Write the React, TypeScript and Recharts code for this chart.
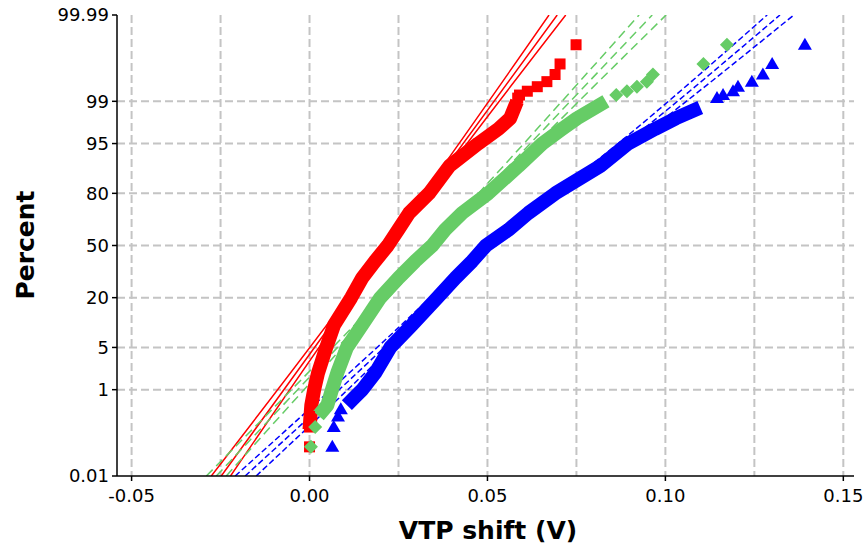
import React from 'react';
import { ComposedChart, Line, Scatter, XAxis, YAxis, CartesianGrid } from 'recharts';

// normal probability scale: cumulative percent -> standard normal quantile
const probit = (pct: number) => {
  const p = pct / 100;
  const a = [-39.69683028665376, 220.9460984245205, -275.9285104469687, 138.357751867269, -30.66479806614716, 2.506628277459239];
  const b = [-54.47609879822406, 161.5858368580409, -155.6989798598866, 66.80131188771972, -13.28068155288572];
  const c = [-0.007784894002430293, -0.3223964580411365, -2.400758277161838, -2.549732539343734, 4.374664141464968, 2.938163982698783];
  const d = [0.007784695709041462, 0.3224671290700398, 2.445134137142996, 3.754408661907416];
  const tail = (q: number) =>
    (((((c[0] * q + c[1]) * q + c[2]) * q + c[3]) * q + c[4]) * q + c[5]) /
    ((((d[0] * q + d[1]) * q + d[2]) * q + d[3]) * q + 1);
  if (p < 0.02425) return tail(Math.sqrt(-2 * Math.log(p)));
  if (p > 1 - 0.02425) return -tail(Math.sqrt(-2 * Math.log(1 - p)));
  const q = p - 0.5;
  const r = q * q;
  return ((((((a[0] * r + a[1]) * r + a[2]) * r + a[3]) * r + a[4]) * r + a[5]) * q) /
    (((((b[0] * r + b[1]) * r + b[2]) * r + b[3]) * r + b[4]) * r + 1);
};

const yTickLabels = ['0.01', '1', '5', '20', '50', '80', '95', '99', '99.99'];
const yGridPct = [1, 5, 20, 50, 80, 95, 99];
const xTicks = [-0.05, 0, 0.05, 0.1, 0.15];
const xGrid = [-0.05, -0.025, 0, 0.025, 0.05, 0.075, 0.1, 0.125, 0.15];

// dense part of each sample (percent, VTP shift)
const redPct = [0.15, 0.5, 1, 2, 5, 10, 20, 30, 40, 50, 60, 70, 80, 90, 95, 97, 98, 99];
const redX = [0.0, 0.0005, 0.0013, 0.0024, 0.0047, 0.0069, 0.0117, 0.0148, 0.0184, 0.022, 0.0249, 0.028, 0.0336, 0.0393, 0.0474, 0.0531, 0.0564, 0.0583];
const greenPct = [0.3, 0.5, 1, 2, 5, 10, 20, 30, 40, 50, 60, 70, 80, 90, 95, 97, 98, 99];
const greenX = [0.0025, 0.005, 0.0063, 0.0078, 0.0105, 0.0148, 0.0199, 0.025, 0.0297, 0.0345, 0.0381, 0.0429, 0.0502, 0.0587, 0.0654, 0.071, 0.0752, 0.0833];
const bluePct = [0.5, 0.7, 1, 2, 5, 10, 20, 30, 40, 50, 60, 70, 80, 90, 95, 97, 98, 98.7];
const blueX = [0.0105, 0.0125, 0.0148, 0.0185, 0.0227, 0.0288, 0.0359, 0.041, 0.0457, 0.0496, 0.0559, 0.0615, 0.0691, 0.0817, 0.0895, 0.0971, 0.103, 0.1098];

// isolated points in the tails
const redTailPct = [0.058, 0.17, 0.29, 99.13, 99.24, 99.36, 99.48, 99.59, 99.71, 99.83, 99.94];
const redTailX = [0.0, 0.0, 0.0, 0.0585, 0.059, 0.0612, 0.064, 0.0667, 0.069, 0.0704, 0.0749];
const greenTailPct = [0.058, 0.17, 99.24, 99.36, 99.48, 99.59, 99.71, 99.83, 99.94];
const greenTailX = [0.0004, 0.0016, 0.0862, 0.0892, 0.092, 0.0948, 0.0965, 0.1107, 0.1173];
const blueTailPct = [0.058, 0.17, 0.29, 0.41, 99.13, 99.24, 99.36, 99.48, 99.59, 99.71, 99.83, 99.94];
const blueTailX = [0.0064, 0.0068, 0.008, 0.0088, 0.1145, 0.1162, 0.119, 0.1204, 0.1243, 0.1274, 0.13, 0.1392];

// fitted lines with confidence bounds
const fitPct = [0.01, 50, 99.99];
const redFitLow = [-0.0276, 0.0215, 0.0673];
const redFit = [-0.0248, 0.0222, 0.0696];
const redFitHigh = [-0.0222, 0.0229, 0.072];
const greenFitLow = [-0.029, 0.0339, 0.0926];
const greenFit = [-0.0262, 0.0349, 0.0963];
const greenFitHigh = [-0.0234, 0.0359, 0.1002];
const blueFitPct = [0.01, 5, 50, 95, 99.99];
const blueFitLow = [-0.0209, 0.019, 0.05, 0.0867, 0.1286];
const blueFit = [-0.0181, 0.021, 0.0508, 0.0887, 0.1322];
const blueFitHigh = [-0.015, 0.023, 0.0516, 0.0906, 0.1361];

const toPoints = (pct: number[], xs: number[]) => pct.map((p, i) => ({ x: xs[i], z: probit(p) }));

const RED = '#ff0000';
const GREEN = '#66cc66';
const BLUE = '#0000ff';
const FONT = '"DejaVu Sans", Verdana, sans-serif';

const xMin = -0.0541;
const xMax = 0.153;
const zMin = probit(0.01);
const zMax = probit(99.99);
const yTicks = yTickLabels.map((l) => probit(parseFloat(l)));

const Square = (props: any) => <rect x={props.cx - 5.5} y={props.cy - 5.5} width={11} height={11} fill={RED} />;
const Diamond = (props: any) => {
  const { cx, cy } = props;
  return <polygon points={`${cx},${cy - 7} ${cx + 7},${cy} ${cx},${cy + 7} ${cx - 7},${cy}`} fill={GREEN} />;
};
const Triangle = (props: any) => {
  const { cx, cy } = props;
  return <polygon points={`${cx},${cy - 7} ${cx + 7},${cy + 5} ${cx - 7},${cy + 5}`} fill={BLUE} />;
};

const fits = [
  { data: toPoints(fitPct, redFitLow), color: RED, dash: undefined },
  { data: toPoints(fitPct, redFit), color: RED, dash: undefined },
  { data: toPoints(fitPct, redFitHigh), color: RED, dash: undefined },
  { data: toPoints(fitPct, greenFitLow), color: GREEN, dash: '9 5' },
  { data: toPoints(fitPct, greenFit), color: GREEN, dash: '9 5' },
  { data: toPoints(fitPct, greenFitHigh), color: GREEN, dash: '9 5' },
  { data: toPoints(blueFitPct, blueFitLow), color: BLUE, dash: '6 3' },
  { data: toPoints(blueFitPct, blueFit), color: BLUE, dash: '6 3' },
  { data: toPoints(blueFitPct, blueFitHigh), color: BLUE, dash: '6 3' },
];

const axisStyle = { stroke: '#000', strokeWidth: 1.5 };

export default function App() {
  return (
    <div style={{ position: 'absolute', left: 0, top: 0, width: 865, height: 550, background: '#fff', fontFamily: FONT }}>
      <ComposedChart width={865} height={550} margin={{ top: 15, right: 11, bottom: 0, left: 0 }}>
        <CartesianGrid
          verticalValues={xGrid}
          horizontalValues={yGridPct.map(probit)}
          stroke="#c4c4c4"
          strokeWidth={2}
          strokeDasharray="8 4"
        />
        <XAxis
          dataKey="x"
          type="number"
          domain={[xMin, xMax]}
          ticks={xTicks}
          interval={0}
          allowDataOverflow
          height={74}
          tickFormatter={(v: number) => v.toFixed(2)}
          axisLine={axisStyle}
          tickLine={axisStyle}
          tickSize={5}
          tickMargin={8}
          tick={{ fill: '#000', fontSize: 18, fontFamily: FONT }}
        />
        <XAxis xAxisId="top" orientation="top" type="number" domain={[xMin, xMax]} allowDataOverflow height={0} tick={false} tickLine={false} axisLine={axisStyle} />
        <YAxis
          dataKey="z"
          type="number"
          domain={[zMin, zMax]}
          ticks={yTicks}
          interval={0}
          allowDataOverflow
          width={117}
          tickFormatter={(v: number, i: number) => yTickLabels[i]}
          axisLine={axisStyle}
          tickLine={axisStyle}
          tickSize={5}
          tickMargin={3}
          tick={{ fill: '#000', fontSize: 18, fontFamily: FONT }}
        />
        <YAxis yAxisId="right" orientation="right" type="number" domain={[zMin, zMax]} width={0} tick={false} tickLine={false} axisLine={axisStyle} />

        {fits.map((f, i) => (
          <Line
            key={'fit' + i}
            data={f.data}
            dataKey="z"
            type="monotone"
            stroke={f.color}
            strokeWidth={1.5}
            strokeDasharray={f.dash}
            dot={false}
            isAnimationActive={false}
          />
        ))}

        <Line data={toPoints(redPct, redX)} dataKey="z" type="linear" stroke={RED} strokeWidth={14} strokeLinejoin="round" dot={false} isAnimationActive={false} />
        <Scatter data={toPoints(redTailPct, redTailX)} dataKey="z" shape={Square} isAnimationActive={false} />
        <Line data={toPoints(greenPct, greenX)} dataKey="z" type="linear" stroke={GREEN} strokeWidth={14} strokeLinejoin="round" dot={false} isAnimationActive={false} />
        <Scatter data={toPoints(greenTailPct, greenTailX)} dataKey="z" shape={Diamond} isAnimationActive={false} />
        <Line data={toPoints(bluePct, blueX)} dataKey="z" type="linear" stroke={BLUE} strokeWidth={14} strokeLinejoin="round" dot={false} isAnimationActive={false} />
        <Scatter data={toPoints(blueTailPct, blueTailX)} dataKey="z" shape={Triangle} isAnimationActive={false} />
      </ComposedChart>
      <div
        style={{
          position: 'absolute',
          left: 25,
          top: 245,
          transform: 'translate(-50%, -50%) rotate(-90deg)',
          fontSize: 25,
          fontWeight: 'bold',
          whiteSpace: 'nowrap',
        }}
      >
        Percent
      </div>
      <div
        style={{
          position: 'absolute',
          left: 488,
          top: 530,
          transform: 'translate(-50%, -50%)',
          fontSize: 25,
          fontWeight: 'bold',
          whiteSpace: 'nowrap',
        }}
      >
        VTP shift (V)
      </div>
    </div>
  );
}
